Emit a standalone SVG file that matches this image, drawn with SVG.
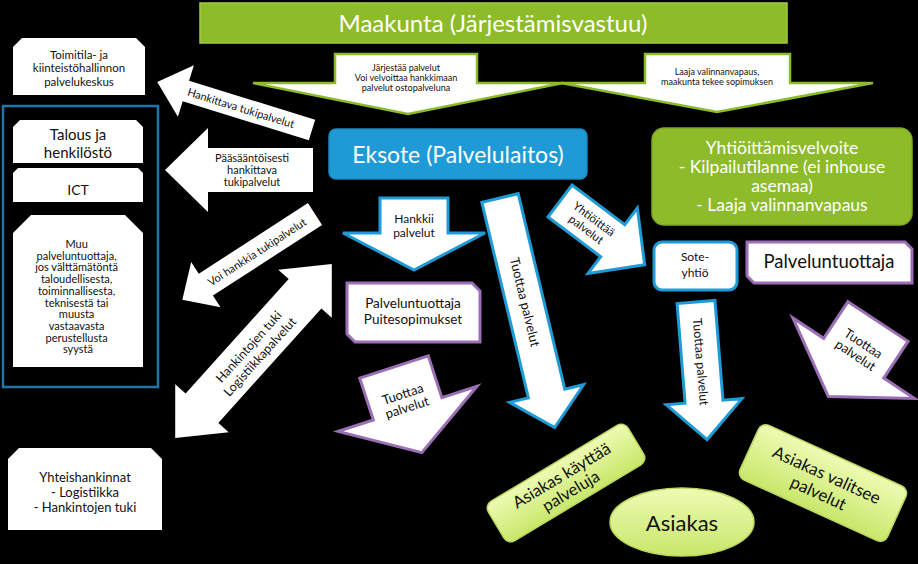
<svg xmlns="http://www.w3.org/2000/svg" width="918" height="564" viewBox="0 0 918 564">
<defs>
<linearGradient id="lg" x1="0" y1="0" x2="0" y2="1">
<stop offset="0" stop-color="#eefbb4"/>
<stop offset="1" stop-color="#c8e76a"/>
</linearGradient>
</defs>
<style>
text{font-family:Lato,"Liberation Sans",sans-serif;fill:#111;text-anchor:middle}
.wt{fill:#fff}
.box{fill:#fff}
.arw{fill:#fff}
.garw{fill:#fff;stroke:#8dbb2a;stroke-width:2.5}
.barw{fill:#fff;stroke:#1e9bd7;stroke-width:3}
.parw{fill:#fff;stroke:#9b6fb5;stroke-width:3}
.lg{fill:url(#lg);stroke:#bcd85e;stroke-width:1.5}
</style>
<rect width="918" height="564" fill="#000"/>

<g id="maakunta">
<rect x="200" y="3" width="587" height="40" fill="#8dbb2a" stroke="#a2cc44" stroke-width="1.5"/>
<text class="wt" x="493" y="32" font-size="24">Maakunta (Järjestämisvastuu)</text>
</g>

<g id="connectors">
<g id="arrow-jarjestaa">
<path class="garw" d="M335,54 L477,54 L477,83 L563,83 L408,114 L253,83 L335,83 Z"/>
<text x="406" y="71" font-size="9">Järjestää palvelut</text>
<text x="406" y="81" font-size="9">Voi velvoittaa hankkimaan</text>
<text x="406" y="91" font-size="9">palvelut ostopalveluna</text>
</g>
<g id="arrow-laaja">
<path class="garw" d="M645,54 L790,54 L790,83 L873,83 L717,112 L561,83 L645,83 Z"/>
<text x="717" y="75" font-size="9">Laaja valinnanvapaus,</text>
<text x="717" y="85" font-size="9">maakunta tekee sopimuksen</text>
</g>
<g id="arrow-hankittava">
<path class="arw" transform="translate(312,130) rotate(197.2)" d="M0,-10.75 L132,-10.75 L132,-27 L162,0 L132,27 L132,10.75 L0,10.75 Z"/>
<text transform="translate(241,108) rotate(17.2)" y="4" font-size="11">Hankittava tukipalvelut</text>
</g>
<g id="arrow-paasaantoisesti">
<path class="arw" d="M165,170 L208,128 L208,148 L313,148 L313,192 L208,192 L208,212 Z"/>
<text x="252" y="162" font-size="11">Pääsääntöisesti</text>
<text x="252" y="174" font-size="11">hankittava</text>
<text x="252" y="186" font-size="11">tukipalvelut</text>
</g>
<g id="arrow-voi-hankkia">
<path class="arw" transform="translate(315,214) rotate(147.1)" d="M0,-13 L130,-13 L130,-27 L158,0 L130,27 L130,13 L0,13 Z"/>
<text transform="translate(257,252) rotate(-32.9)" y="4" font-size="11">Voi hankkia tukipalvelut</text>
</g>
<g id="arrow-hankintojen" transform="translate(253.5,351) rotate(-48)">
<path class="arw" d="M-117,0 L-77,-36 L-77,-22 L77,-22 L77,-36 L117,0 L77,36 L77,22 L-77,22 L-77,36 Z"/>
<text y="-2" font-size="12.5">Hankintojen tuki</text>
<text y="13" font-size="12.5">Logistiikkapalvelut</text>
</g>
<g id="arrow-hankkii">
<path class="barw" d="M380,198 L448,198 L448,233 L485,233 L414,270 L343,233 L380,233 Z"/>
<text x="414" y="223" font-size="12">Hankkii</text>
<text x="414" y="237" font-size="12">palvelut</text>
</g>
<g id="arrow-tuottaa-eksote" transform="translate(500,198) rotate(76.6)">
<path class="barw" d="M0,-18.7 L201,-18.7 L201,-38 L236,0 L201,38 L201,18.7 L0,18.7 Z"/>
<text x="107" y="4.5" font-size="13">Tuottaa palvelut</text>
</g>
<g id="arrow-yhtioittaa" transform="translate(560,201) rotate(37)">
<path class="barw" d="M0,-20 L66,-20 L66,-41 L106,0 L66,41 L66,20 L0,20 Z"/>
<text x="38" y="-2" font-size="11.5">Yhtiöittää</text>
<text x="38" y="11" font-size="11.5">palvelut</text>
</g>
<g id="arrow-tuottaa-sote" transform="translate(696,302) rotate(85.4)">
<path class="barw" d="M0,-19 L100,-19 L100,-38 L138,0 L100,38 L100,19 L0,19 Z"/>
<text x="60" y="4.5" font-size="12.5">Tuottaa palvelut</text>
</g>
<g id="arrow-tuottaa-puite" transform="translate(394,367) rotate(-18)">
<path class="parw" d="M-36,0 L36,0 L36,44 L73,44 L0,90 L-73,44 L-36,44 Z"/>
<text y="33" font-size="13">Tuottaa</text>
<text y="47" font-size="13">palvelut</text>
</g>
<g id="arrow-tuottaa-right" transform="translate(878,321.5) rotate(33.5)">
<path class="parw" d="M-36,0 L36,0 L36,44 L73,44 L0,90 L-73,44 L-36,44 Z"/>
<text y="31" font-size="13">Tuottaa</text>
<text y="45" font-size="13">palvelut</text>
</g>
</g>

<g id="toimitila">
<path class="box" d="M22,38 L136,38 L145,47 L145,95 L13,95 L13,47 Z"/>
<text x="79" y="58.5" font-size="11.5">Toimitila- ja</text>
<text x="79" y="72" font-size="11.5">kiinteistöhallinnon</text>
<text x="79" y="85.5" font-size="11.5">palvelukeskus</text>
</g>

<g id="tukipalvelut-ryhma">
<rect x="3" y="106" width="155" height="281" fill="none" stroke="#1f74a8" stroke-width="2.5"/>
</g>

<g id="talous">
<path class="box" d="M20,120 L136,120 L143,127 L143,163 L13,163 L13,127 Z"/>
<text x="78" y="140" font-size="15">Talous ja</text>
<text x="78" y="158" font-size="15">henkilöstö</text>
</g>

<g id="ict">
<path class="box" d="M18,168 L138,168 L143,173 L143,202 L13,202 L13,173 Z"/>
<text x="78" y="195" font-size="14">ICT</text>
</g>

<g id="muu">
<path class="box" d="M31,215 L125,215 L143,233 L143,367 L13,367 L13,233 Z"/>
<text font-size="11">
<tspan x="78" y="248">Muu</tspan>
<tspan x="78" y="259.7">palveluntuottaja,</tspan>
<tspan x="78" y="271.4">jos välttämätöntä</tspan>
<tspan x="78" y="283.1">taloudellisesta,</tspan>
<tspan x="78" y="294.8">toiminnallisesta,</tspan>
<tspan x="78" y="306.5">teknisestä tai</tspan>
<tspan x="78" y="318.2">muusta</tspan>
<tspan x="78" y="329.9">vastaavasta</tspan>
<tspan x="78" y="341.6">perustellusta</tspan>
<tspan x="78" y="353.3">syystä</tspan>
</text>
</g>

<g id="yhteishankinnat">
<path class="box" d="M19,448 L151,448 L162,459 L162,530 L8,530 L8,459 Z"/>
<text x="85" y="482" font-size="13">Yhteishankinnat</text>
<text x="85" y="497" font-size="13">- Logistiikka</text>
<text x="85" y="512" font-size="13">- Hankintojen tuki</text>
</g>

<g id="eksote">
<rect x="329" y="129" width="258" height="50" rx="7" fill="#1e9bd7" stroke="#1a88c0" stroke-width="1.5"/>
<text class="wt" x="458" y="163" font-size="23">Eksote (Palvelulaitos)</text>
</g>

<g id="yhtioittamisvelvoite">
<rect x="652" y="128" width="260" height="97" rx="12" fill="#8dbb2a" stroke="#7fa825" stroke-width="1.5"/>
<text class="wt" x="782" y="154" font-size="17.5">Yhtiöittämisvelvoite</text>
<text class="wt" x="782" y="173" font-size="17.5">- Kilpailutilanne (ei inhouse</text>
<text class="wt" x="782" y="192" font-size="17.5">asemaa)</text>
<text class="wt" x="782" y="211" font-size="17.5">- Laaja valinnanvapaus</text>
</g>

<g id="sote-yhtio">
<rect x="654" y="242" width="83" height="48" rx="8" fill="#fff" stroke="#1e9bd7" stroke-width="3"/>
<text x="695" y="261" font-size="12">Sote-</text>
<text x="695" y="277" font-size="12">yhtiö</text>
</g>

<g id="palveluntuottaja">
<path d="M747,242 L905,242 L912,249 L912,283 L754,283 L747,276 Z" fill="#fff" stroke="#9b6fb5" stroke-width="3"/>
<text x="829" y="268" font-size="18.5">Palveluntuottaja</text>
</g>

<g id="puitesopimukset">
<path d="M347,283 L472,283 L480,291 L480,342 L355,342 L347,334 Z" fill="#fff" stroke="#9b6fb5" stroke-width="3"/>
<text x="413" y="308" font-size="13.5">Palveluntuottaja</text>
<text x="413" y="324" font-size="13.5">Puitesopimukset</text>
</g>

<g id="asiakas-kayttaa" transform="translate(566,483) rotate(-31)">
<rect class="lg" x="-81.5" y="-23" width="163" height="46" rx="8"/>
<text y="-3" font-size="16.5">Asiakas käyttää</text>
<text y="15" font-size="16.5">palveluja</text>
</g>

<g id="asiakas">
<ellipse class="lg" cx="682" cy="522" rx="72" ry="34"/>
<text x="682" y="531" font-size="22">Asiakas</text>
</g>

<g id="asiakas-valitsee" transform="translate(823,483) rotate(24.5)">
<rect class="lg" x="-81" y="-30" width="162" height="60" rx="8"/>
<text y="-3" font-size="17">Asiakas valitsee</text>
<text y="17" font-size="17">palvelut</text>
</g>
</svg>
